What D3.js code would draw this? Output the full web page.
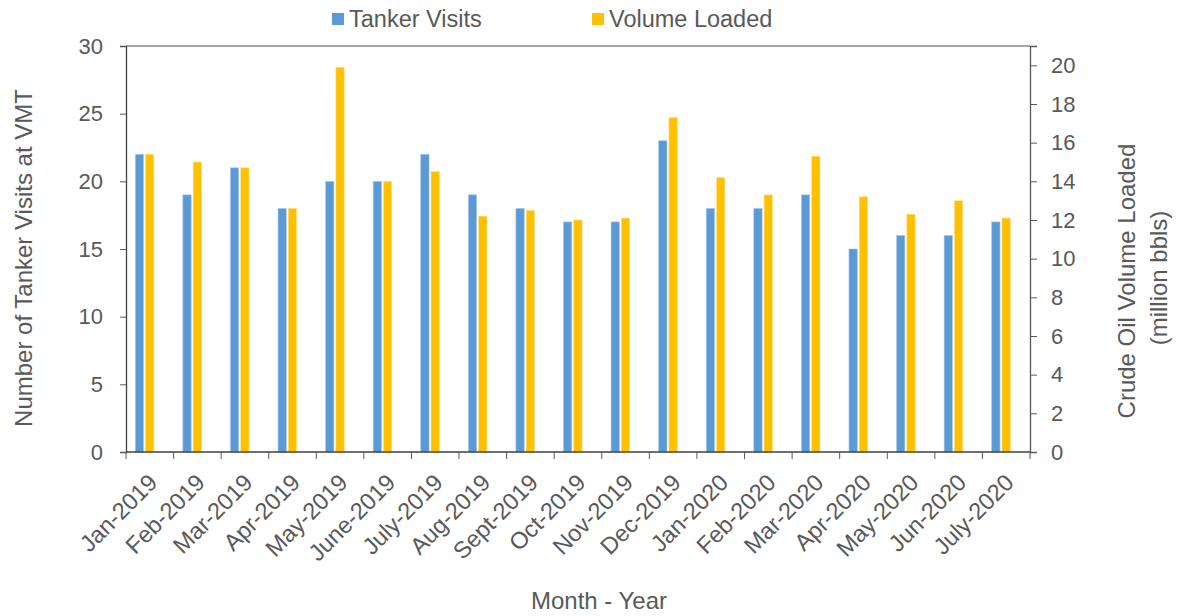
<!DOCTYPE html>
<html lang="en">
  <head>
    <meta charset="utf-8">
    <script src="https://d3js.org/d3.v7.min.js"></script>
    <style>
      body {
        margin: 0px;
        background: #fff;
      }
      text {
        font-family: "Liberation Sans", Arial, sans-serif;
        fill: #595959;
      }
      .tick text {
        font-size: 22px;
      }
      .axis-label {
        font-size: 24px;
      }
    </style>
  </head>
  <body>
    <svg width="1181" height="616"></svg>
    <script>
      // data
      const months = ['Jan-2019', 'Feb-2019', 'Mar-2019', 'Apr-2019', 'May-2019', 'June-2019',
        'July-2019', 'Aug-2019', 'Sept-2019', 'Oct-2019', 'Nov-2019', 'Dec-2019', 'Jan-2020',
        'Feb-2020', 'Mar-2020', 'Apr-2020', 'May-2020', 'Jun-2020', 'July-2020'];
      const tankerVisits = [22, 19, 21, 18, 20, 20, 22, 19, 18, 17, 17, 23, 18, 18, 19, 15, 16, 16, 17];
      const volumeLoaded = [15.4, 15.0, 14.7, 12.6, 19.9, 14.0, 14.5, 12.2, 12.5, 12.0, 12.1, 17.3,
        14.2, 13.3, 15.3, 13.2, 12.3, 13.0, 12.1];
      const leftTicks = [0, 5, 10, 15, 20, 25, 30];
      const rightTicks = [0, 2, 4, 6, 8, 10, 12, 14, 16, 18, 20];
      const seriesNames = ['Tanker Visits', 'Volume Loaded'];
      const seriesColors = ['#5B9BD5', '#FFC000'];

      const margin = { left: 126, right: 151, top: 46, bottom: 164 };

      const svg = d3.select('svg');
      const width = +svg.attr('width');
      const height = +svg.attr('height');
      const innerWidth = width - margin.left - margin.right;
      const innerHeight = height - margin.top - margin.bottom;

      const g = svg.append('g')
        .attr('transform', `translate(${margin.left},${margin.top})`);

      const xScale = d3.scaleBand()
        .domain(months)
        .range([0, innerWidth])
        .padding(0);
      const bw = xScale.bandwidth();

      // two bars sit a little left of the band centre
      const xSub = d3.scaleBand()
        .domain(seriesNames)
        .range([bw * 0.195, bw * 0.586])
        .paddingInner(0.19);

      const yLeft = d3.scaleLinear().domain([0, 30]).range([innerHeight, 0]);
      const yRight = d3.scaleLinear().domain([0, 21]).range([innerHeight, 0]);

      // bars
      const rows = months.map((m, i) => ({ month: m, visits: tankerVisits[i], volume: volumeLoaded[i] }));

      g.selectAll('.bar-visits').data(rows)
        .enter().append('rect')
          .attr('class', 'bar-visits')
          .attr('x', d => xScale(d.month) + xSub('Tanker Visits'))
          .attr('y', d => yLeft(d.visits))
          .attr('width', xSub.bandwidth())
          .attr('height', d => innerHeight - yLeft(d.visits))
          .attr('fill', seriesColors[0])
          .attr('stroke', '#a9c8e8')
          .attr('stroke-width', 0.6);

      g.selectAll('.bar-volume').data(rows)
        .enter().append('rect')
          .attr('class', 'bar-volume')
          .attr('x', d => xScale(d.month) + xSub('Volume Loaded'))
          .attr('y', d => yRight(d.volume))
          .attr('width', xSub.bandwidth())
          .attr('height', d => innerHeight - yRight(d.volume))
          .attr('fill', seriesColors[1])
          .attr('stroke', '#ffe08a')
          .attr('stroke-width', 0.6);

      // top frame line
      g.append('line')
        .attr('x1', 0).attr('x2', innerWidth)
        .attr('y1', 0).attr('y2', 0)
        .attr('stroke', '#898989')
        .attr('stroke-width', 1.5);

      // left axis
      const yAxisL = d3.axisLeft(yLeft)
        .tickValues(leftTicks)
        .tickSize(6)
        .tickPadding(17);
      const yAxisLG = g.append('g').call(yAxisL);
      yAxisLG.select('.domain').attr('stroke', '#404040').attr('stroke-width', 1.3);
      yAxisLG.selectAll('.tick line').attr('stroke', '#595959');
      yAxisLG.selectAll('.tick text').attr('fill', '#595959');

      // right axis
      const yAxisR = d3.axisRight(yRight)
        .tickValues(rightTicks)
        .tickSize(7)
        .tickPadding(14);
      const yAxisRG = g.append('g')
        .attr('transform', `translate(${innerWidth},0)`)
        .call(yAxisR);
      yAxisRG.select('.domain').attr('stroke', '#595959').attr('stroke-width', 1.3);
      yAxisRG.selectAll('.tick line').attr('stroke', '#595959');
      yAxisRG.selectAll('.tick text').attr('fill', '#595959');

      // bottom axis: ticks on band edges, labels rotated
      const xAxisG = g.append('g')
        .attr('transform', `translate(0,${innerHeight})`);
      xAxisG.append('line')
        .attr('x1', 0).attr('x2', innerWidth)
        .attr('stroke', '#404040')
        .attr('stroke-width', 1.3);
      xAxisG.selectAll('.edge').data(months.concat(['end']))
        .enter().append('line')
          .attr('class', 'edge')
          .attr('x1', (d, i) => i * bw).attr('x2', (d, i) => i * bw)
          .attr('y1', 0).attr('y2', 7)
          .attr('stroke', '#595959');
      xAxisG.selectAll('.xlabel').data(months)
        .enter().append('text')
          .attr('class', 'xlabel')
          .attr('transform', d => `translate(${xScale(d) + bw / 2 + 9},${32}) rotate(-45)`)
          .attr('text-anchor', 'end')
          .style('font-size', '23.5px')
          .text(d => d);

      // axis titles
      svg.append('text')
        .attr('class', 'axis-label')
        .attr('transform', 'translate(32,258) rotate(-90)')
        .attr('text-anchor', 'middle')
        .text('Number of Tanker Visits at VMT');

      svg.append('text')
        .attr('class', 'axis-label')
        .attr('transform', 'translate(1135,281) rotate(-90)')
        .attr('text-anchor', 'middle')
        .text('Crude Oil Volume Loaded');
      svg.append('text')
        .attr('class', 'axis-label')
        .attr('transform', 'translate(1167,278) rotate(-90)')
        .attr('text-anchor', 'middle')
        .text('(million bbls)');

      svg.append('text')
        .attr('class', 'axis-label')
        .attr('x', 599)
        .attr('y', 609)
        .attr('text-anchor', 'middle')
        .text('Month - Year');

      // legend
      const legendX = [332, 592];
      const legend = svg.selectAll('.legend').data(seriesNames)
        .enter().append('g')
          .attr('class', 'legend')
          .attr('transform', (d, i) => `translate(${legendX[i]},13)`);
      legend.append('rect')
        .attr('width', 12).attr('height', 12)
        .attr('fill', (d, i) => seriesColors[i]);
      legend.append('text')
        .attr('x', 17)
        .attr('y', 13.7)
        .style('font-size', '23.5px')
        .text(d => d);
    </script>
  </body>
</html>
